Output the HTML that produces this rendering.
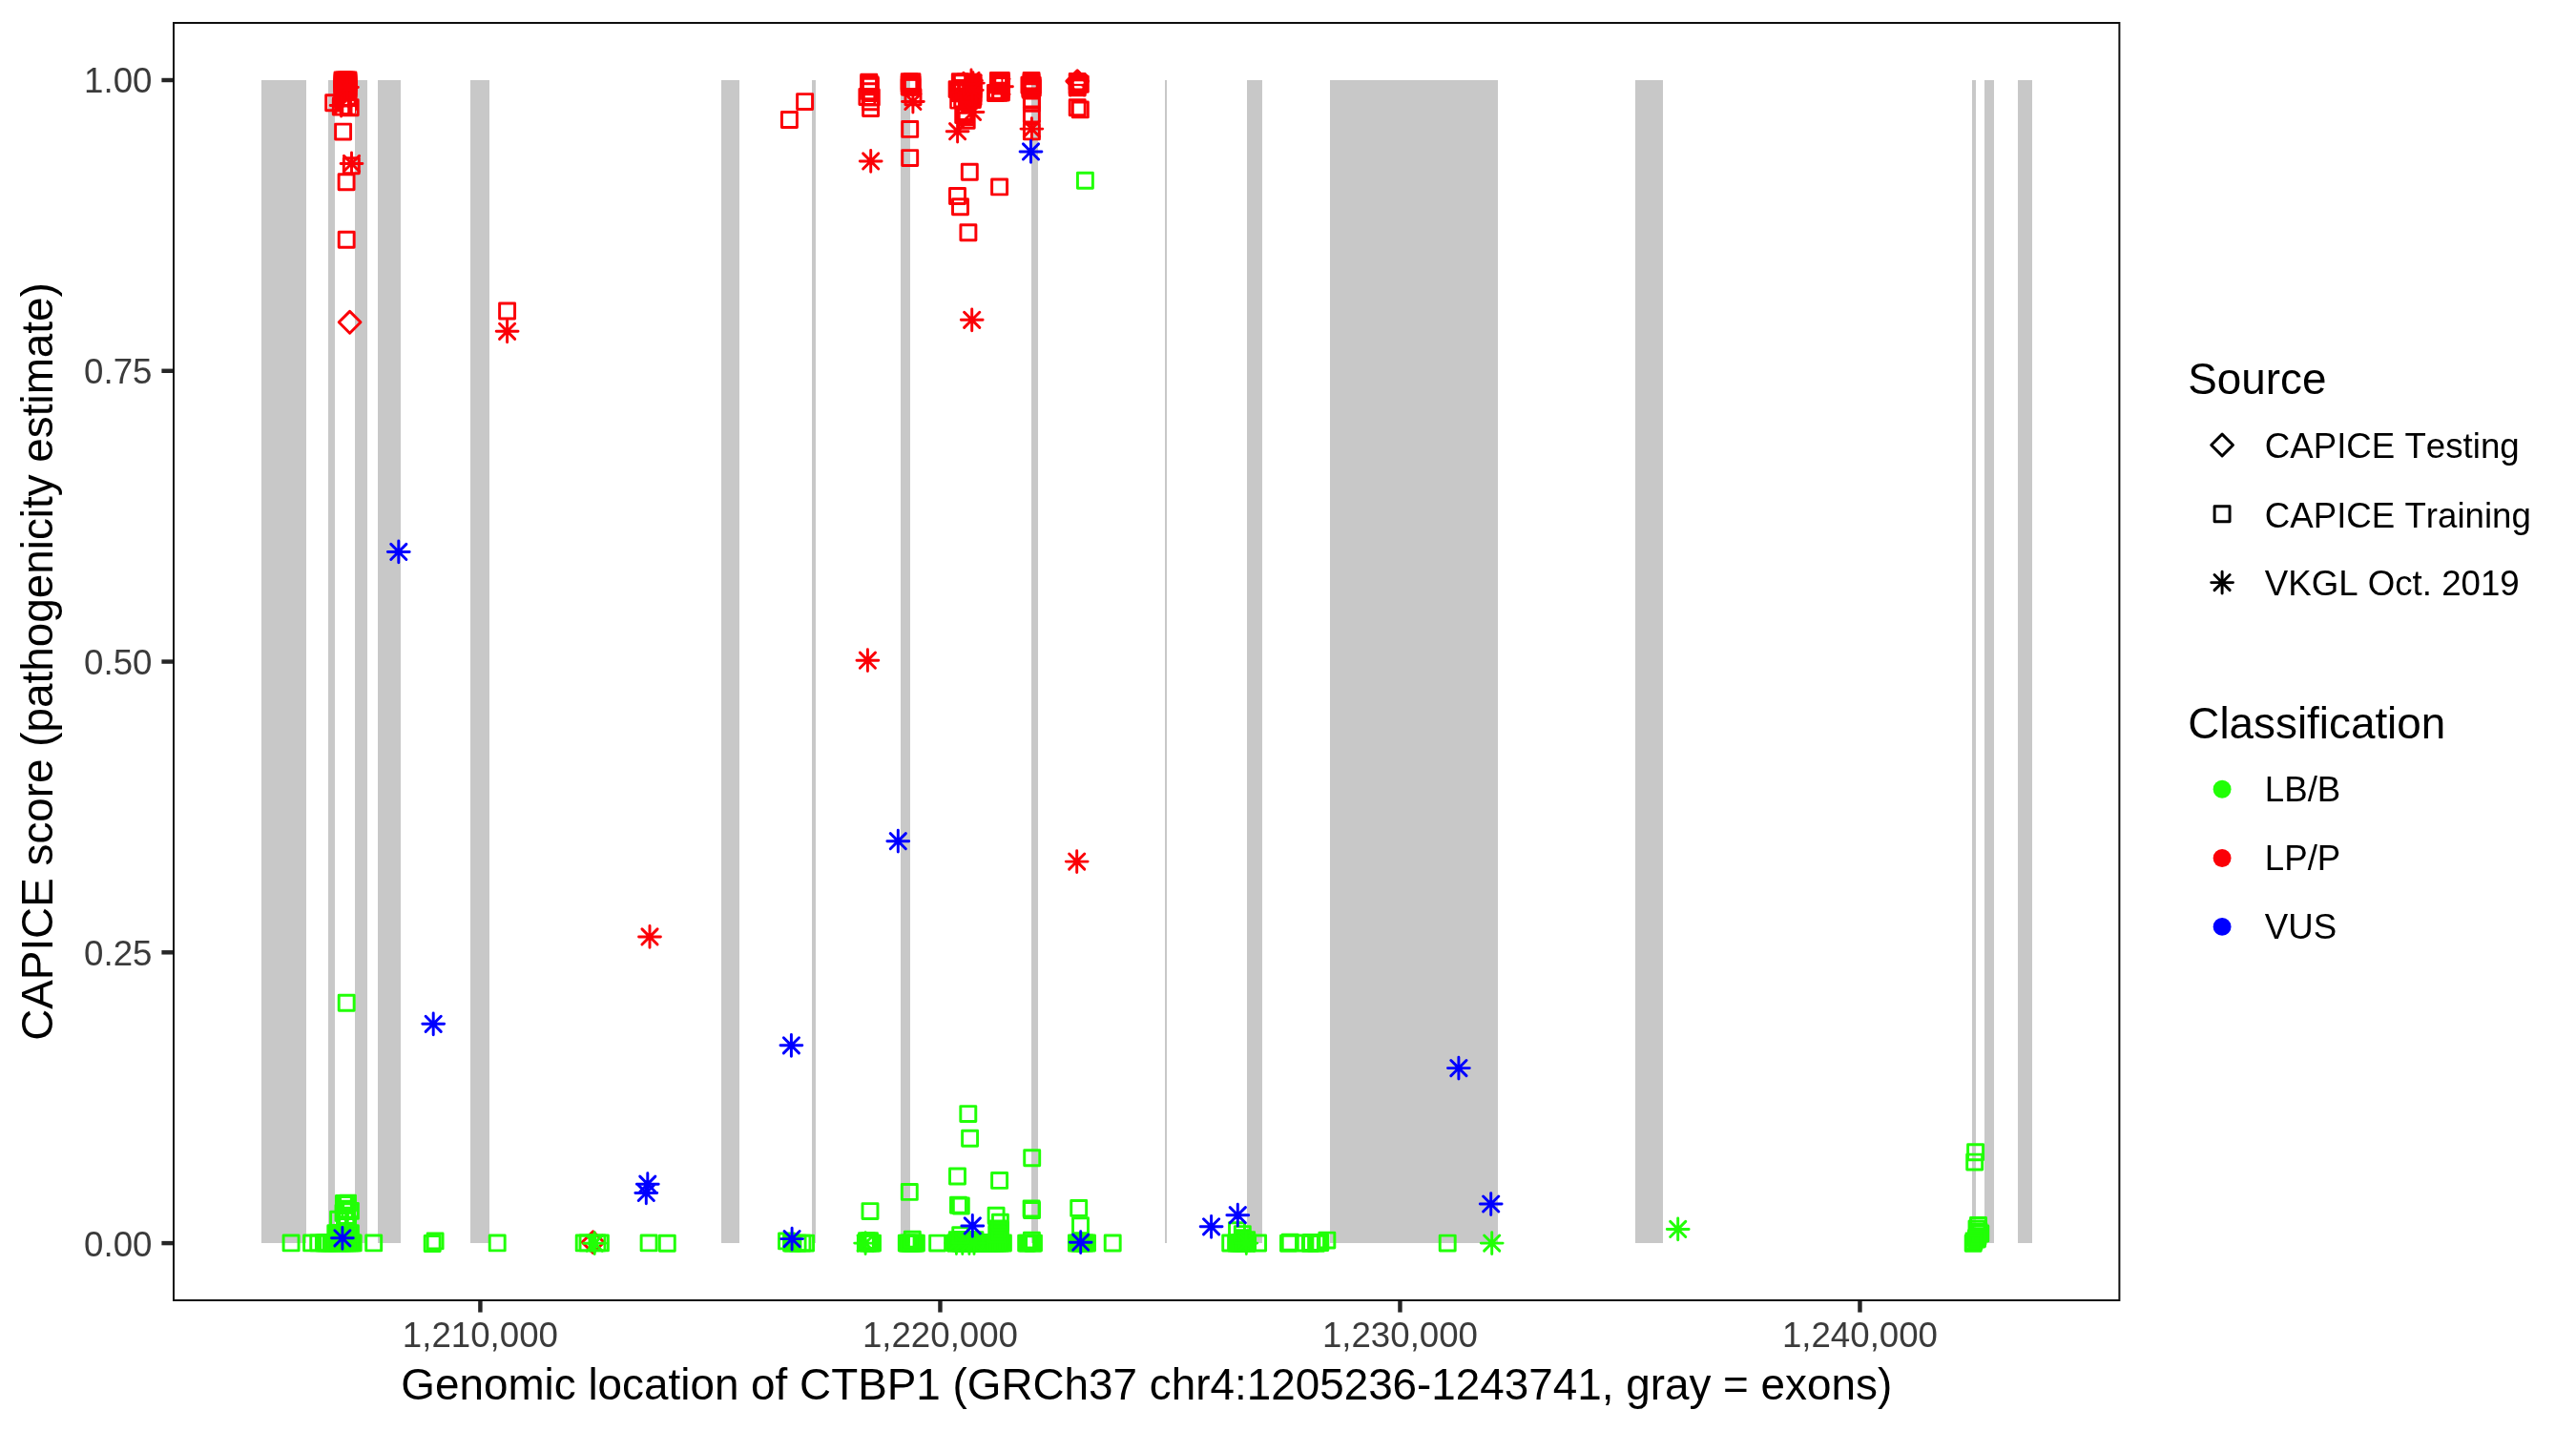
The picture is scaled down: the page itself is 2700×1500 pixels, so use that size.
<!DOCTYPE html>
<html><head><meta charset="utf-8"><title>CTBP1 CAPICE</title>
<style>html,body{margin:0;padding:0;background:#fff}svg{display:block;will-change:transform}text{font-family:"Liberation Sans",sans-serif;font-kerning:none;font-variant-ligatures:none}.tk{font-size:36.67px;fill:#3b3b3b}.ti{font-size:45.83px;fill:#000}.lg{font-size:36.67px;fill:#000}</style></head><body>
<svg width="2700" height="1500" viewBox="0 0 2700 1500">
<rect x="0" y="0" width="2700" height="1500" fill="#fff"/>
<g fill="#c8c8c8" shape-rendering="crispEdges">
<rect x="274" y="84" width="47" height="1218.9"/>
<rect x="344" y="84" width="7" height="1218.9"/>
<rect x="372" y="84" width="13" height="1218.9"/>
<rect x="396" y="84" width="24" height="1218.9"/>
<rect x="493.1" y="84" width="19.9" height="1218.9"/>
<rect x="756" y="84" width="18.9" height="1218.9"/>
<rect x="851.2" y="84" width="3.7" height="1218.9"/>
<rect x="944.2" y="84" width="9.6" height="1218.9"/>
<rect x="1081.2" y="84" width="6.6" height="1218.9"/>
<rect x="1221.3" y="84" width="1.7" height="1218.9"/>
<rect x="1307.2" y="84" width="15.7" height="1218.9"/>
<rect x="1394.1" y="84" width="175.7" height="1218.9"/>
<rect x="1714" y="84" width="29" height="1218.9"/>
<rect x="2067" y="84" width="4" height="1218.9"/>
<rect x="2080.1" y="84" width="9.9" height="1218.9"/>
<rect x="2115" y="84" width="15" height="1218.9"/>
</g>
<g fill="none" stroke-width="2.95" stroke-linejoin="round" stroke-linecap="round">
<rect x="351" y="76" width="22.5" height="25" fill="#fb0007" stroke="none" rx="2"/>
<rect x="351" y="100" width="21" height="6" fill="#fb0007" stroke="none" rx="2"/>
<rect x="994.5" y="85.5" width="34.7" height="16.5" fill="#fb0007" stroke="none" rx="2"/>
<rect x="998" y="77.5" width="31.2" height="8.5" fill="#fb0007" stroke="none" rx="2"/>
<rect x="996.5" y="101" width="32" height="12.5" fill="#fb0007" stroke="none" rx="2"/>
<rect x="1037" y="76.5" width="21" height="13.5" fill="#fb0007" stroke="none" rx="2"/>
<rect x="1035" y="89.5" width="23" height="16" fill="#fb0007" stroke="none" rx="2"/>
<rect x="1070.5" y="80" width="20.5" height="23.5" fill="#fb0007" stroke="none" rx="2"/>
<rect x="1072.5" y="76.2" width="17.5" height="4.8" fill="#fb0007" stroke="none" rx="2"/>
<rect x="1121" y="77.5" width="19.5" height="7.7" fill="#fb0007" stroke="none" rx="2"/>
<rect x="1121" y="87.8" width="19.5" height="2.4" fill="#fb0007" stroke="none" rx="2"/>
<rect x="1121" y="92.8" width="16" height="5.4" fill="#fb0007" stroke="none" rx="2"/>
<rect x="351.02" y="76.03" width="15.95" height="15.95" stroke="#fb0007"/>
<rect x="351.02" y="78.03" width="15.95" height="15.95" stroke="#fb0007"/>
<rect x="351.02" y="80.03" width="15.95" height="15.95" stroke="#fb0007"/>
<rect x="351.02" y="82.03" width="15.95" height="15.95" stroke="#fb0007"/>
<rect x="351.02" y="84.03" width="15.95" height="15.95" stroke="#fb0007"/>
<rect x="351.02" y="86.03" width="15.95" height="15.95" stroke="#fb0007"/>
<rect x="353.02" y="76.03" width="15.95" height="15.95" stroke="#fb0007"/>
<rect x="353.02" y="78.03" width="15.95" height="15.95" stroke="#fb0007"/>
<rect x="353.02" y="80.03" width="15.95" height="15.95" stroke="#fb0007"/>
<rect x="353.02" y="82.03" width="15.95" height="15.95" stroke="#fb0007"/>
<rect x="353.02" y="84.03" width="15.95" height="15.95" stroke="#fb0007"/>
<rect x="353.02" y="86.03" width="15.95" height="15.95" stroke="#fb0007"/>
<rect x="355.02" y="76.03" width="15.95" height="15.95" stroke="#fb0007"/>
<rect x="355.02" y="78.03" width="15.95" height="15.95" stroke="#fb0007"/>
<rect x="355.02" y="80.03" width="15.95" height="15.95" stroke="#fb0007"/>
<rect x="355.02" y="82.03" width="15.95" height="15.95" stroke="#fb0007"/>
<rect x="355.02" y="84.03" width="15.95" height="15.95" stroke="#fb0007"/>
<rect x="355.02" y="86.03" width="15.95" height="15.95" stroke="#fb0007"/>
<rect x="357.02" y="76.03" width="15.95" height="15.95" stroke="#fb0007"/>
<rect x="357.02" y="78.03" width="15.95" height="15.95" stroke="#fb0007"/>
<rect x="357.02" y="80.03" width="15.95" height="15.95" stroke="#fb0007"/>
<rect x="357.02" y="82.03" width="15.95" height="15.95" stroke="#fb0007"/>
<rect x="357.02" y="84.03" width="15.95" height="15.95" stroke="#fb0007"/>
<rect x="357.02" y="86.03" width="15.95" height="15.95" stroke="#fb0007"/>
<rect x="341.72" y="99.83" width="15.95" height="15.95" stroke="#fb0007"/>
<rect x="349.32" y="104.03" width="15.95" height="15.95" stroke="#fb0007"/>
<rect x="359.22" y="104.73" width="15.95" height="15.95" stroke="#fb0007"/>
<rect x="354.02" y="98.03" width="15.95" height="15.95" stroke="#fb0007"/>
<rect x="351.52" y="96.03" width="15.95" height="15.95" stroke="#fb0007"/>
<rect x="353.02" y="100.53" width="15.95" height="15.95" stroke="#fb0007"/>
<rect x="355.52" y="102.53" width="15.95" height="15.95" stroke="#fb0007"/>
<rect x="357.02" y="98.53" width="15.95" height="15.95" stroke="#fb0007"/>
<rect x="352.02" y="103.53" width="15.95" height="15.95" stroke="#fb0007"/>
<rect x="356.52" y="95.03" width="15.95" height="15.95" stroke="#fb0007"/>
<path d="M349.54 102.44L365.66 118.56M349.54 118.56L365.66 102.44M346.2 110.5L369 110.5M357.6 99.1L357.6 121.9" stroke="#fb0007"/>
<path d="M355.84 83.34L371.96 99.46M355.84 99.46L371.96 83.34M352.5 91.4L375.3 91.4M363.9 80L363.9 102.8" stroke="#fb0007"/>
<rect x="351.62" y="130.12" width="15.95" height="15.95" stroke="#fb0007"/>
<path d="M360.44 163.34L376.56 179.46M360.44 179.46L376.56 163.34M357.1 171.4L379.9 171.4M368.5 160L368.5 182.8" stroke="#fb0007"/>
<rect x="360.32" y="165.83" width="15.95" height="15.95" stroke="#fb0007"/>
<rect x="355.12" y="182.72" width="15.95" height="15.95" stroke="#fb0007"/>
<rect x="355.22" y="243.22" width="15.95" height="15.95" stroke="#fb0007"/>
<path d="M355.2 337.8L366.6 326.4L378 337.8L366.6 349.2Z" stroke="#fb0007"/>
<rect x="523.62" y="318.02" width="15.95" height="15.95" stroke="#fb0007"/>
<path d="M523.54 339.24L539.66 355.36M523.54 355.36L539.66 339.24M520.2 347.3L543 347.3M531.6 335.9L531.6 358.7" stroke="#fb0007"/>
<rect x="835.62" y="98.62" width="15.95" height="15.95" stroke="#fb0007"/>
<rect x="819.42" y="117.53" width="15.95" height="15.95" stroke="#fb0007"/>
<rect x="902.82" y="78.12" width="15.95" height="15.95" stroke="#fb0007"/>
<rect x="902.82" y="79.53" width="15.95" height="15.95" stroke="#fb0007"/>
<rect x="904.23" y="81.03" width="15.95" height="15.95" stroke="#fb0007"/>
<rect x="904.23" y="82.23" width="15.95" height="15.95" stroke="#fb0007"/>
<rect x="903.52" y="87.83" width="15.95" height="15.95" stroke="#fb0007"/>
<rect x="900.92" y="93.53" width="15.95" height="15.95" stroke="#fb0007"/>
<rect x="905.32" y="94.03" width="15.95" height="15.95" stroke="#fb0007"/>
<rect x="904.52" y="98.83" width="15.95" height="15.95" stroke="#fb0007"/>
<rect x="904.62" y="105.53" width="15.95" height="15.95" stroke="#fb0007"/>
<path d="M904.64 160.84L920.76 176.96M904.64 176.96L920.76 160.84M901.3 168.9L924.1 168.9M912.7 157.5L912.7 180.3" stroke="#fb0007"/>
<rect x="945.23" y="77.83" width="15.95" height="15.95" stroke="#fb0007"/>
<rect x="948.02" y="77.83" width="15.95" height="15.95" stroke="#fb0007"/>
<rect x="945.23" y="80.03" width="15.95" height="15.95" stroke="#fb0007"/>
<rect x="948.02" y="80.53" width="15.95" height="15.95" stroke="#fb0007"/>
<rect x="946.52" y="83.03" width="15.95" height="15.95" stroke="#fb0007"/>
<rect x="945.23" y="83.03" width="15.95" height="15.95" stroke="#fb0007"/>
<rect x="948.02" y="83.03" width="15.95" height="15.95" stroke="#fb0007"/>
<rect x="949.02" y="93.73" width="15.95" height="15.95" stroke="#fb0007"/>
<path d="M948.84 98.44L964.96 114.56M948.84 114.56L964.96 98.44M945.5 106.5L968.3 106.5M956.9 95.1L956.9 117.9" stroke="#fb0007"/>
<rect x="945.73" y="127.43" width="15.95" height="15.95" stroke="#fb0007"/>
<rect x="945.73" y="157.62" width="15.95" height="15.95" stroke="#fb0007"/>
<rect x="998.32" y="77.83" width="15.95" height="15.95" stroke="#fb0007"/>
<rect x="995.12" y="85.62" width="15.95" height="15.95" stroke="#fb0007"/>
<rect x="996.73" y="97.12" width="15.95" height="15.95" stroke="#fb0007"/>
<rect x="1012.02" y="78.62" width="15.95" height="15.95" stroke="#fb0007"/>
<rect x="1012.02" y="82.03" width="15.95" height="15.95" stroke="#fb0007"/>
<rect x="1012.02" y="86.03" width="15.95" height="15.95" stroke="#fb0007"/>
<rect x="1012.02" y="90.03" width="15.95" height="15.95" stroke="#fb0007"/>
<rect x="1012.02" y="93.73" width="15.95" height="15.95" stroke="#fb0007"/>
<rect x="1011.32" y="96.53" width="15.95" height="15.95" stroke="#fb0007"/>
<rect x="1004.02" y="78.03" width="15.95" height="15.95" stroke="#fb0007"/>
<rect x="1008.02" y="78.33" width="15.95" height="15.95" stroke="#fb0007"/>
<rect x="1002.02" y="87.03" width="15.95" height="15.95" stroke="#fb0007"/>
<rect x="1007.02" y="91.03" width="15.95" height="15.95" stroke="#fb0007"/>
<path d="M1009.94 76.34L1026.06 92.46M1009.94 92.46L1026.06 76.34M1006.6 84.4L1029.4 84.4M1018 73L1018 95.8" stroke="#fb0007"/>
<path d="M1011.84 79.04L1027.96 95.16M1011.84 95.16L1027.96 79.04M1008.5 87.1L1031.3 87.1M1019.9 75.7L1019.9 98.5" stroke="#fb0007"/>
<path d="M1010.74 86.34L1026.86 102.46M1010.74 102.46L1026.86 86.34M1007.4 94.4L1030.2 94.4M1018.8 83L1018.8 105.8" stroke="#fb0007"/>
<path d="M1001.84 80.04L1017.96 96.16M1001.84 96.16L1017.96 80.04M998.5 88.1L1021.3 88.1M1009.9 76.7L1009.9 99.5" stroke="#fb0007"/>
<rect x="1001.73" y="112.53" width="15.95" height="15.95" stroke="#fb0007"/>
<rect x="1005.23" y="118.33" width="15.95" height="15.95" stroke="#fb0007"/>
<rect x="1003.52" y="109.53" width="15.95" height="15.95" stroke="#fb0007"/>
<rect x="1004.52" y="114.83" width="15.95" height="15.95" stroke="#fb0007"/>
<path d="M1011.44 109.34L1027.56 125.46M1011.44 125.46L1027.56 109.34M1008.1 117.4L1030.9 117.4M1019.5 106L1019.5 128.8" stroke="#fb0007"/>
<path d="M995.54 129.64L1011.66 145.76M995.54 145.76L1011.66 129.64M992.2 137.7L1015 137.7M1003.6 126.3L1003.6 149.1" stroke="#fb0007"/>
<rect x="1008.32" y="172.33" width="15.95" height="15.95" stroke="#fb0007"/>
<rect x="995.52" y="197.53" width="15.95" height="15.95" stroke="#fb0007"/>
<rect x="998.52" y="208.72" width="15.95" height="15.95" stroke="#fb0007"/>
<rect x="1006.92" y="235.72" width="15.95" height="15.95" stroke="#fb0007"/>
<path d="M1010.64 327.24L1026.76 343.36M1010.64 343.36L1026.76 327.24M1007.3 335.3L1030.1 335.3M1018.7 323.9L1018.7 346.7" stroke="#fb0007"/>
<rect x="1039.62" y="187.93" width="15.95" height="15.95" stroke="#fb0007"/>
<rect x="1038.43" y="76.53" width="15.95" height="15.95" stroke="#fb0007"/>
<rect x="1038.43" y="79.53" width="15.95" height="15.95" stroke="#fb0007"/>
<rect x="1038.43" y="82.53" width="15.95" height="15.95" stroke="#fb0007"/>
<rect x="1038.43" y="86.03" width="15.95" height="15.95" stroke="#fb0007"/>
<rect x="1041.43" y="76.53" width="15.95" height="15.95" stroke="#fb0007"/>
<rect x="1041.43" y="79.53" width="15.95" height="15.95" stroke="#fb0007"/>
<rect x="1041.43" y="82.53" width="15.95" height="15.95" stroke="#fb0007"/>
<rect x="1041.43" y="86.03" width="15.95" height="15.95" stroke="#fb0007"/>
<rect x="1035.53" y="89.53" width="15.95" height="15.95" stroke="#fb0007"/>
<rect x="1039.03" y="89.33" width="15.95" height="15.95" stroke="#fb0007"/>
<rect x="1041.43" y="89.03" width="15.95" height="15.95" stroke="#fb0007"/>
<path d="M1041.94 82.74L1058.06 98.86M1041.94 98.86L1058.06 82.74M1038.6 90.8L1061.4 90.8M1050 79.4L1050 102.2" stroke="#fb0007"/>
<rect x="1073.08" y="76.53" width="15.95" height="15.95" stroke="#fb0007"/>
<rect x="1073.08" y="78.53" width="15.95" height="15.95" stroke="#fb0007"/>
<rect x="1070.93" y="81.23" width="15.95" height="15.95" stroke="#fb0007"/>
<rect x="1074.33" y="81.53" width="15.95" height="15.95" stroke="#fb0007"/>
<rect x="1072.03" y="84.23" width="15.95" height="15.95" stroke="#fb0007"/>
<rect x="1074.33" y="84.23" width="15.95" height="15.95" stroke="#fb0007"/>
<rect x="1073.03" y="87.03" width="15.95" height="15.95" stroke="#fb0007"/>
<rect x="1073.43" y="97.23" width="15.95" height="15.95" stroke="#fb0007"/>
<rect x="1073.43" y="100.23" width="15.95" height="15.95" stroke="#fb0007"/>
<rect x="1073.43" y="111.93" width="15.95" height="15.95" stroke="#fb0007"/>
<rect x="1073.43" y="129.93" width="15.95" height="15.95" stroke="#fb0007"/>
<path d="M1073.34 127.04L1089.46 143.16M1073.34 143.16L1089.46 127.04M1070 135.1L1092.8 135.1M1081.4 123.7L1081.4 146.5" stroke="#fb0007"/>
<path d="M1117.8 85.1L1129.2 73.7L1140.6 85.1L1129.2 96.5Z" stroke="#fb0007"/>
<rect x="1121.23" y="77.43" width="15.95" height="15.95" stroke="#fb0007"/>
<rect x="1121.53" y="78.53" width="15.95" height="15.95" stroke="#fb0007"/>
<rect x="1124.33" y="80.23" width="15.95" height="15.95" stroke="#fb0007"/>
<rect x="1121.23" y="84.03" width="15.95" height="15.95" stroke="#fb0007"/>
<rect x="1121.23" y="82.03" width="15.95" height="15.95" stroke="#fb0007"/>
<rect x="1121.23" y="104.73" width="15.95" height="15.95" stroke="#fb0007"/>
<rect x="1124.33" y="106.93" width="15.95" height="15.95" stroke="#fb0007"/>
<path d="M901.34 684.14L917.46 700.26M901.34 700.26L917.46 684.14M898 692.2L920.8 692.2M909.4 680.8L909.4 703.6" stroke="#fb0007"/>
<path d="M1120.64 895.04L1136.76 911.16M1120.64 911.16L1136.76 895.04M1117.3 903.1L1140.1 903.1M1128.7 891.7L1128.7 914.5" stroke="#fb0007"/>
<path d="M672.94 973.84L689.06 989.96M672.94 989.96L689.06 973.84M669.6 981.9L692.4 981.9M681 970.5L681 993.3" stroke="#fb0007"/>
<path d="M610.2 1302.1L621.6 1290.7L633 1302.1L621.6 1313.5Z" stroke="#fb0007"/>
<rect x="1001.8" y="80.2" width="8.4" height="2.7" fill="#fff" stroke="none" rx="0.6"/>
<rect x="997.8" y="107" width="1.4" height="5" fill="#fff" stroke="none" rx="0.6"/>
<rect x="1002.3" y="107.2" width="1.6" height="3.4" fill="#fff" stroke="none" rx="0.6"/>
<rect x="1002" y="90.3" width="1.2" height="1.2" fill="#fff" stroke="none" rx="0.6"/>
<rect x="1007" y="90.5" width="1.3" height="1.1" fill="#fff" stroke="none" rx="0.6"/>
<rect x="1044.2" y="83.1" width="5.3" height="2.7" fill="#fff" stroke="none" rx="0.6"/>
<rect x="1051.3" y="83.1" width="1.8" height="2.7" fill="#fff" stroke="none" rx="0.6"/>
<rect x="1037.9" y="98.1" width="1.1" height="3.6" fill="#fff" stroke="none" rx="0.6"/>
<rect x="1042.1" y="99.6" width="6.6" height="2.1" fill="#fff" stroke="none" rx="0.6"/>
<rect x="1075.7" y="89.2" width="5.7" height="2.2" fill="#fff" stroke="none" rx="0.6"/>
<rect x="1081.2" y="89.2" width="4.6" height="2.2" fill="#c8c8c8" stroke="none" rx="0.6"/>
<rect x="1125.9" y="85.5" width="9.7" height="2" fill="#fff" stroke="none" rx="0.6"/>
<rect x="1126.3" y="90.5" width="8.2" height="1.9" fill="#fff" stroke="none" rx="0.6"/>
<rect x="1122.6" y="101.5" width="13" height="1.4" fill="#fff" stroke="none" rx="0.6"/>
<rect x="360.3" y="112.4" width="3.9" height="5.7" fill="#fff" stroke="none" rx="0.6"/>
<rect x="369.5" y="112.1" width="2.5" height="6.6" fill="#fff" stroke="none" rx="0.6"/>
<rect x="353.3" y="117.4" width="2.6" height="1.3" fill="#fff" stroke="none" rx="0.6"/>
<rect x="369" y="106.1" width="1.8" height="1.6" fill="#fff" stroke="none" rx="0.6"/>
<rect x="339.5" y="1294.5" width="39.5" height="17" fill="#21ff06" stroke="none" rx="2"/>
<rect x="821.5" y="1295" width="18" height="16.5" fill="#21ff06" stroke="none" rx="2"/>
<path fill-rule="evenodd" fill="#21ff06" stroke="none" d="M942.3 1295H968.4V1311.3H942.3ZM953.2 1297.1H956.8V1305.9H953.2Z"/>
<rect x="994" y="1295" width="66" height="16" fill="#21ff06" stroke="none" rx="2"/>
<rect x="1035.5" y="1279.2" width="22.3" height="16.8" fill="#21ff06" stroke="none" rx="2"/>
<rect x="994.5" y="1291.5" width="36.5" height="4.5" fill="#21ff06" stroke="none" rx="2"/>
<path fill-rule="evenodd" fill="#21ff06" stroke="none" d="M1067.5 1295H1092V1311.3H1067.5ZM1077 1297.2H1082.85V1306.8H1077Z"/>
<rect x="1121" y="1295" width="26" height="16" fill="#21ff06" stroke="none" rx="2"/>
<rect x="1286.5" y="1294.5" width="30.3" height="17.3" fill="#21ff06" stroke="none" rx="2"/>
<rect x="1293.5" y="1288.3" width="17.8" height="6.7" fill="#21ff06" stroke="none" rx="2"/>
<rect x="2062" y="1288" width="20" height="20" fill="#21ff06" stroke="none" rx="2"/>
<rect x="343.5" y="1284.5" width="32.5" height="10" fill="#21ff06" stroke="none" rx="2"/>
<rect x="353.5" y="1254" width="18.5" height="29" fill="#21ff06" stroke="none" rx="2"/>
<rect x="1129.43" y="181.33" width="15.95" height="15.95" stroke="#21ff06"/>
<rect x="355.22" y="1043.33" width="15.95" height="15.95" stroke="#21ff06"/>
<rect x="297.12" y="1294.93" width="15.95" height="15.95" stroke="#21ff06"/>
<rect x="318.62" y="1294.93" width="15.95" height="15.95" stroke="#21ff06"/>
<rect x="325.77" y="1294.93" width="15.95" height="15.95" stroke="#21ff06"/>
<rect x="331.42" y="1294.93" width="15.95" height="15.95" stroke="#21ff06"/>
<rect x="333.02" y="1294.93" width="15.95" height="15.95" stroke="#21ff06"/>
<rect x="334.52" y="1294.93" width="15.95" height="15.95" stroke="#21ff06"/>
<rect x="336.02" y="1294.93" width="15.95" height="15.95" stroke="#21ff06"/>
<rect x="337.52" y="1294.93" width="15.95" height="15.95" stroke="#21ff06"/>
<rect x="339.52" y="1294.93" width="15.95" height="15.95" stroke="#21ff06"/>
<rect x="341.52" y="1294.93" width="15.95" height="15.95" stroke="#21ff06"/>
<rect x="344.02" y="1294.93" width="15.95" height="15.95" stroke="#21ff06"/>
<rect x="346.52" y="1294.93" width="15.95" height="15.95" stroke="#21ff06"/>
<rect x="349.02" y="1294.93" width="15.95" height="15.95" stroke="#21ff06"/>
<rect x="351.52" y="1294.93" width="15.95" height="15.95" stroke="#21ff06"/>
<rect x="354.02" y="1294.93" width="15.95" height="15.95" stroke="#21ff06"/>
<rect x="356.52" y="1294.93" width="15.95" height="15.95" stroke="#21ff06"/>
<rect x="359.02" y="1294.93" width="15.95" height="15.95" stroke="#21ff06"/>
<rect x="361.02" y="1294.93" width="15.95" height="15.95" stroke="#21ff06"/>
<rect x="362.22" y="1294.93" width="15.95" height="15.95" stroke="#21ff06"/>
<rect x="383.72" y="1294.93" width="15.95" height="15.95" stroke="#21ff06"/>
<rect x="445.22" y="1295.53" width="15.95" height="15.95" stroke="#21ff06"/>
<rect x="448.12" y="1292.93" width="15.95" height="15.95" stroke="#21ff06"/>
<rect x="513.23" y="1294.93" width="15.95" height="15.95" stroke="#21ff06"/>
<rect x="604.23" y="1294.93" width="15.95" height="15.95" stroke="#21ff06"/>
<rect x="608.02" y="1294.93" width="15.95" height="15.95" stroke="#21ff06"/>
<rect x="618.02" y="1294.93" width="15.95" height="15.95" stroke="#21ff06"/>
<rect x="621.42" y="1294.93" width="15.95" height="15.95" stroke="#21ff06"/>
<path d="M615.14 1295.14L631.26 1311.26M615.14 1311.26L631.26 1295.14M611.8 1303.2L634.6 1303.2M623.2 1291.8L623.2 1314.6" stroke="#21ff06"/>
<rect x="672.12" y="1294.93" width="15.95" height="15.95" stroke="#21ff06"/>
<rect x="691.32" y="1295.33" width="15.95" height="15.95" stroke="#21ff06"/>
<rect x="816.52" y="1292.93" width="15.95" height="15.95" stroke="#21ff06"/>
<rect x="821.57" y="1295.12" width="15.95" height="15.95" stroke="#21ff06"/>
<rect x="823.02" y="1295.12" width="15.95" height="15.95" stroke="#21ff06"/>
<rect x="828.12" y="1295.12" width="15.95" height="15.95" stroke="#21ff06"/>
<rect x="833.02" y="1295.12" width="15.95" height="15.95" stroke="#21ff06"/>
<rect x="836.62" y="1295.12" width="15.95" height="15.95" stroke="#21ff06"/>
<rect x="899.38" y="1295.12" width="15.95" height="15.95" stroke="#21ff06"/>
<rect x="900.52" y="1292.83" width="15.95" height="15.95" stroke="#21ff06"/>
<rect x="902.02" y="1295.12" width="15.95" height="15.95" stroke="#21ff06"/>
<rect x="903.52" y="1292.83" width="15.95" height="15.95" stroke="#21ff06"/>
<rect x="905.02" y="1295.12" width="15.95" height="15.95" stroke="#21ff06"/>
<rect x="906.52" y="1295.12" width="15.95" height="15.95" stroke="#21ff06"/>
<path d="M899.04 1295.04L915.16 1311.16M899.04 1311.16L915.16 1295.04M895.7 1303.1L918.5 1303.1M907.1 1291.7L907.1 1314.5" stroke="#21ff06"/>
<rect x="942.32" y="1295.12" width="15.95" height="15.95" stroke="#21ff06"/>
<rect x="943.52" y="1295.12" width="15.95" height="15.95" stroke="#21ff06"/>
<rect x="945.02" y="1295.12" width="15.95" height="15.95" stroke="#21ff06"/>
<rect x="946.52" y="1295.12" width="15.95" height="15.95" stroke="#21ff06"/>
<rect x="948.02" y="1295.12" width="15.95" height="15.95" stroke="#21ff06"/>
<rect x="949.52" y="1295.12" width="15.95" height="15.95" stroke="#21ff06"/>
<rect x="951.02" y="1295.12" width="15.95" height="15.95" stroke="#21ff06"/>
<rect x="952.42" y="1295.12" width="15.95" height="15.95" stroke="#21ff06"/>
<rect x="974.67" y="1295.12" width="15.95" height="15.95" stroke="#21ff06"/>
<rect x="948.32" y="1291.33" width="15.95" height="15.95" stroke="#21ff06"/>
<rect x="993.23" y="1295.03" width="15.95" height="15.95" stroke="#21ff06"/>
<rect x="996.02" y="1295.03" width="15.95" height="15.95" stroke="#21ff06"/>
<rect x="998.82" y="1295.03" width="15.95" height="15.95" stroke="#21ff06"/>
<rect x="1001.62" y="1295.03" width="15.95" height="15.95" stroke="#21ff06"/>
<rect x="1004.42" y="1295.03" width="15.95" height="15.95" stroke="#21ff06"/>
<rect x="1007.22" y="1295.03" width="15.95" height="15.95" stroke="#21ff06"/>
<rect x="1010.02" y="1295.03" width="15.95" height="15.95" stroke="#21ff06"/>
<rect x="1012.82" y="1295.03" width="15.95" height="15.95" stroke="#21ff06"/>
<rect x="1015.62" y="1295.03" width="15.95" height="15.95" stroke="#21ff06"/>
<rect x="1018.42" y="1295.03" width="15.95" height="15.95" stroke="#21ff06"/>
<rect x="1021.22" y="1295.03" width="15.95" height="15.95" stroke="#21ff06"/>
<rect x="1024.02" y="1295.03" width="15.95" height="15.95" stroke="#21ff06"/>
<rect x="1026.82" y="1295.03" width="15.95" height="15.95" stroke="#21ff06"/>
<rect x="1029.62" y="1295.03" width="15.95" height="15.95" stroke="#21ff06"/>
<rect x="1032.42" y="1295.03" width="15.95" height="15.95" stroke="#21ff06"/>
<rect x="1035.22" y="1295.03" width="15.95" height="15.95" stroke="#21ff06"/>
<rect x="1038.02" y="1295.03" width="15.95" height="15.95" stroke="#21ff06"/>
<rect x="1040.82" y="1295.03" width="15.95" height="15.95" stroke="#21ff06"/>
<rect x="1043.43" y="1295.03" width="15.95" height="15.95" stroke="#21ff06"/>
<rect x="1038.03" y="1280.03" width="15.95" height="15.95" stroke="#21ff06"/>
<rect x="1040.03" y="1283.03" width="15.95" height="15.95" stroke="#21ff06"/>
<rect x="1037.03" y="1286.03" width="15.95" height="15.95" stroke="#21ff06"/>
<rect x="995.32" y="1291.83" width="15.95" height="15.95" stroke="#21ff06"/>
<rect x="1000.02" y="1291.83" width="15.95" height="15.95" stroke="#21ff06"/>
<rect x="1005.02" y="1291.83" width="15.95" height="15.95" stroke="#21ff06"/>
<rect x="1010.02" y="1291.83" width="15.95" height="15.95" stroke="#21ff06"/>
<rect x="1014.02" y="1291.83" width="15.95" height="15.95" stroke="#21ff06"/>
<path d="M994.34 1294.94L1010.46 1311.06M994.34 1311.06L1010.46 1294.94M991 1303L1013.8 1303M1002.4 1291.6L1002.4 1314.4" stroke="#21ff06"/>
<path d="M1000.74 1294.94L1016.86 1311.06M1000.74 1311.06L1016.86 1294.94M997.4 1303L1020.2 1303M1008.8 1291.6L1008.8 1314.4" stroke="#21ff06"/>
<path d="M1007.84 1294.94L1023.96 1311.06M1007.84 1311.06L1023.96 1294.94M1004.5 1303L1027.3 1303M1015.9 1291.6L1015.9 1314.4" stroke="#21ff06"/>
<path d="M1012.94 1294.94L1029.06 1311.06M1012.94 1311.06L1029.06 1294.94M1009.6 1303L1032.4 1303M1021 1291.6L1021 1314.4" stroke="#21ff06"/>
<rect x="1067.68" y="1295.12" width="15.95" height="15.95" stroke="#21ff06"/>
<rect x="1069.03" y="1295.12" width="15.95" height="15.95" stroke="#21ff06"/>
<rect x="1074.53" y="1295.12" width="15.95" height="15.95" stroke="#21ff06"/>
<rect x="1075.48" y="1295.12" width="15.95" height="15.95" stroke="#21ff06"/>
<rect x="1073.43" y="1292.23" width="15.95" height="15.95" stroke="#21ff06"/>
<rect x="1120.43" y="1295.03" width="15.95" height="15.95" stroke="#21ff06"/>
<rect x="1123.03" y="1295.03" width="15.95" height="15.95" stroke="#21ff06"/>
<rect x="1126.03" y="1295.03" width="15.95" height="15.95" stroke="#21ff06"/>
<rect x="1129.03" y="1295.03" width="15.95" height="15.95" stroke="#21ff06"/>
<rect x="1131.53" y="1295.03" width="15.95" height="15.95" stroke="#21ff06"/>
<rect x="1158.23" y="1295.03" width="15.95" height="15.95" stroke="#21ff06"/>
<rect x="1281.73" y="1295.08" width="15.95" height="15.95" stroke="#21ff06"/>
<rect x="1287.73" y="1295.08" width="15.95" height="15.95" stroke="#21ff06"/>
<rect x="1290.03" y="1295.08" width="15.95" height="15.95" stroke="#21ff06"/>
<rect x="1292.33" y="1295.08" width="15.95" height="15.95" stroke="#21ff06"/>
<rect x="1294.62" y="1295.08" width="15.95" height="15.95" stroke="#21ff06"/>
<rect x="1297.03" y="1295.08" width="15.95" height="15.95" stroke="#21ff06"/>
<rect x="1299.62" y="1295.08" width="15.95" height="15.95" stroke="#21ff06"/>
<rect x="1310.62" y="1295.08" width="15.95" height="15.95" stroke="#21ff06"/>
<rect x="1288.53" y="1281.73" width="15.95" height="15.95" stroke="#21ff06"/>
<rect x="1294.33" y="1285.62" width="15.95" height="15.95" stroke="#21ff06"/>
<rect x="1298.73" y="1291.73" width="15.95" height="15.95" stroke="#21ff06"/>
<path d="M1298.24 1295.04L1314.36 1311.16M1298.24 1311.16L1314.36 1295.04M1294.9 1303.1L1317.7 1303.1M1306.3 1291.7L1306.3 1314.5" stroke="#21ff06"/>
<rect x="1342.53" y="1295.33" width="15.95" height="15.95" stroke="#21ff06"/>
<rect x="1344.23" y="1294.23" width="15.95" height="15.95" stroke="#21ff06"/>
<rect x="1359.62" y="1295.03" width="15.95" height="15.95" stroke="#21ff06"/>
<rect x="1365.43" y="1295.33" width="15.95" height="15.95" stroke="#21ff06"/>
<rect x="1366.53" y="1294.53" width="15.95" height="15.95" stroke="#21ff06"/>
<rect x="1371.62" y="1295.23" width="15.95" height="15.95" stroke="#21ff06"/>
<rect x="1374.43" y="1294.62" width="15.95" height="15.95" stroke="#21ff06"/>
<rect x="1375.83" y="1294.53" width="15.95" height="15.95" stroke="#21ff06"/>
<rect x="1382.88" y="1292.12" width="15.95" height="15.95" stroke="#21ff06"/>
<rect x="1509.23" y="1295.12" width="15.95" height="15.95" stroke="#21ff06"/>
<path d="M1555.64 1295.04L1571.76 1311.16M1555.64 1311.16L1571.76 1295.04M1552.3 1303.1L1575.1 1303.1M1563.7 1291.7L1563.7 1314.5" stroke="#21ff06"/>
<path d="M1750.64 1280.34L1766.76 1296.46M1750.64 1296.46L1766.76 1280.34M1747.3 1288.4L1770.1 1288.4M1758.7 1277L1758.7 1299.8" stroke="#21ff06"/>
<rect x="2062.62" y="1199.73" width="15.95" height="15.95" stroke="#21ff06"/>
<rect x="2061.72" y="1210.12" width="15.95" height="15.95" stroke="#21ff06"/>
<rect x="2065.53" y="1276.43" width="15.95" height="15.95" stroke="#21ff06"/>
<rect x="2064.03" y="1280.03" width="15.95" height="15.95" stroke="#21ff06"/>
<rect x="2066.03" y="1283.03" width="15.95" height="15.95" stroke="#21ff06"/>
<rect x="2067.83" y="1285.03" width="15.95" height="15.95" stroke="#21ff06"/>
<rect x="2065.03" y="1288.03" width="15.95" height="15.95" stroke="#21ff06"/>
<rect x="2064.03" y="1291.03" width="15.95" height="15.95" stroke="#21ff06"/>
<rect x="2061.03" y="1293.03" width="15.95" height="15.95" stroke="#21ff06"/>
<rect x="2060.22" y="1295.33" width="15.95" height="15.95" stroke="#21ff06"/>
<rect x="352.42" y="1253.53" width="15.95" height="15.95" stroke="#21ff06"/>
<rect x="356.52" y="1253.23" width="15.95" height="15.95" stroke="#21ff06"/>
<rect x="353.52" y="1256.03" width="15.95" height="15.95" stroke="#21ff06"/>
<rect x="355.52" y="1258.83" width="15.95" height="15.95" stroke="#21ff06"/>
<rect x="354.02" y="1261.03" width="15.95" height="15.95" stroke="#21ff06"/>
<rect x="359.42" y="1261.43" width="15.95" height="15.95" stroke="#21ff06"/>
<rect x="352.02" y="1263.53" width="15.95" height="15.95" stroke="#21ff06"/>
<rect x="355.52" y="1265.03" width="15.95" height="15.95" stroke="#21ff06"/>
<rect x="346.62" y="1270.33" width="15.95" height="15.95" stroke="#21ff06"/>
<rect x="353.52" y="1272.53" width="15.95" height="15.95" stroke="#21ff06"/>
<rect x="356.52" y="1275.03" width="15.95" height="15.95" stroke="#21ff06"/>
<rect x="354.52" y="1277.03" width="15.95" height="15.95" stroke="#21ff06"/>
<rect x="343.82" y="1284.73" width="15.95" height="15.95" stroke="#21ff06"/>
<rect x="347.02" y="1284.73" width="15.95" height="15.95" stroke="#21ff06"/>
<rect x="350.02" y="1284.53" width="15.95" height="15.95" stroke="#21ff06"/>
<rect x="353.02" y="1284.73" width="15.95" height="15.95" stroke="#21ff06"/>
<rect x="356.02" y="1284.73" width="15.95" height="15.95" stroke="#21ff06"/>
<rect x="359.42" y="1284.73" width="15.95" height="15.95" stroke="#21ff06"/>
<rect x="904.02" y="1261.62" width="15.95" height="15.95" stroke="#21ff06"/>
<rect x="945.32" y="1241.43" width="15.95" height="15.95" stroke="#21ff06"/>
<rect x="995.52" y="1225.03" width="15.95" height="15.95" stroke="#21ff06"/>
<rect x="1039.62" y="1229.43" width="15.95" height="15.95" stroke="#21ff06"/>
<rect x="1073.73" y="1205.73" width="15.95" height="15.95" stroke="#21ff06"/>
<rect x="996.52" y="1255.23" width="15.95" height="15.95" stroke="#21ff06"/>
<rect x="999.32" y="1256.03" width="15.95" height="15.95" stroke="#21ff06"/>
<rect x="1036.12" y="1266.23" width="15.95" height="15.95" stroke="#21ff06"/>
<rect x="1040.43" y="1273.23" width="15.95" height="15.95" stroke="#21ff06"/>
<rect x="1073.12" y="1259.03" width="15.95" height="15.95" stroke="#21ff06"/>
<rect x="1073.53" y="1260.53" width="15.95" height="15.95" stroke="#21ff06"/>
<rect x="1122.73" y="1258.43" width="15.95" height="15.95" stroke="#21ff06"/>
<rect x="1124.53" y="1276.73" width="15.95" height="15.95" stroke="#21ff06"/>
<rect x="998.73" y="1286.83" width="15.95" height="15.95" stroke="#21ff06"/>
<rect x="1006.82" y="1159.62" width="15.95" height="15.95" stroke="#21ff06"/>
<rect x="1008.62" y="1185.33" width="15.95" height="15.95" stroke="#21ff06"/>
<rect x="337.3" y="1296.6" width="0.7" height="12.6" fill="#fff" stroke="none" rx="0.6"/>
<rect x="357.9" y="1256.1" width="9.1" height="1.6" fill="#fff" stroke="none" rx="0.6"/>
<rect x="361" y="1263.2" width="6" height="1.6" fill="#fff" stroke="none" rx="0.6"/>
<rect x="357" y="1278.9" width="4" height="2.2" fill="#fff" stroke="none" rx="0.6"/>
<rect x="365.7" y="1279.1" width="3.7" height="2" fill="#fff" stroke="none" rx="0.6"/>
<rect x="357" y="1272.9" width="0.7" height="1.4" fill="#fff" stroke="none" rx="0.6"/>
<rect x="360.1" y="1272.9" width="1.2" height="1.4" fill="#fff" stroke="none" rx="0.6"/>
<rect x="365.9" y="1272.7" width="2" height="1.8" fill="#fff" stroke="none" rx="0.6"/>
<path d="M1072.44 150.84L1088.56 166.96M1072.44 166.96L1088.56 150.84M1069.1 158.9L1091.9 158.9M1080.5 147.5L1080.5 170.3" stroke="#0000ff"/>
<path d="M409.74 570.34L425.86 586.46M409.74 586.46L425.86 570.34M406.4 578.4L429.2 578.4M417.8 567L417.8 589.8" stroke="#0000ff"/>
<path d="M933.24 873.64L949.36 889.76M933.24 889.76L949.36 873.64M929.9 881.7L952.7 881.7M941.3 870.3L941.3 893.1" stroke="#0000ff"/>
<path d="M446.14 1065.24L462.26 1081.36M446.14 1081.36L462.26 1065.24M442.8 1073.3L465.6 1073.3M454.2 1061.9L454.2 1084.7" stroke="#0000ff"/>
<path d="M821.34 1087.74L837.46 1103.86M821.34 1103.86L837.46 1087.74M818 1095.8L840.8 1095.8M829.4 1084.4L829.4 1107.2" stroke="#0000ff"/>
<path d="M1520.84 1111.54L1536.96 1127.66M1520.84 1127.66L1536.96 1111.54M1517.5 1119.6L1540.3 1119.6M1528.9 1108.2L1528.9 1131" stroke="#0000ff"/>
<path d="M670.74 1233.14L686.86 1249.26M670.74 1249.26L686.86 1233.14M667.4 1241.2L690.2 1241.2M678.8 1229.8L678.8 1252.6" stroke="#0000ff"/>
<path d="M669.24 1242.34L685.36 1258.46M669.24 1258.46L685.36 1242.34M665.9 1250.4L688.7 1250.4M677.3 1239L677.3 1261.8" stroke="#0000ff"/>
<path d="M1554.64 1253.94L1570.76 1270.06M1554.64 1270.06L1570.76 1253.94M1551.3 1262L1574.1 1262M1562.7 1250.6L1562.7 1273.4" stroke="#0000ff"/>
<path d="M1261.54 1277.74L1277.66 1293.86M1261.54 1293.86L1277.66 1277.74M1258.2 1285.8L1281 1285.8M1269.6 1274.4L1269.6 1297.2" stroke="#0000ff"/>
<path d="M1289.24 1265.64L1305.36 1281.76M1289.24 1281.76L1305.36 1265.64M1285.9 1273.7L1308.7 1273.7M1297.3 1262.3L1297.3 1285.1" stroke="#0000ff"/>
<path d="M1011.24 1276.84L1027.36 1292.96M1011.24 1292.96L1027.36 1276.84M1007.9 1284.9L1030.7 1284.9M1019.3 1273.5L1019.3 1296.3" stroke="#0000ff"/>
<path d="M1124.64 1294.14L1140.76 1310.26M1124.64 1310.26L1140.76 1294.14M1121.3 1302.2L1144.1 1302.2M1132.7 1290.8L1132.7 1313.6" stroke="#0000ff"/>
<path d="M822.04 1290.54L838.16 1306.66M822.04 1306.66L838.16 1290.54M818.7 1298.6L841.5 1298.6M830.1 1287.2L830.1 1310" stroke="#0000ff"/>
<path d="M350.84 1289.74L366.96 1305.86M350.84 1305.86L366.96 1289.74M347.5 1297.8L370.3 1297.8M358.9 1286.4L358.9 1309.2" stroke="#0000ff"/>
</g>
<rect x="182" y="24" width="2039.4" height="1339" fill="none" stroke="#0f0f0f" stroke-width="2"/>
<g stroke="#262626" stroke-width="4.45">
<line x1="169.4" y1="84" x2="181" y2="84"/>
<line x1="169.4" y1="388.77" x2="181" y2="388.77"/>
<line x1="169.4" y1="693.55" x2="181" y2="693.55"/>
<line x1="169.4" y1="998.32" x2="181" y2="998.32"/>
<line x1="169.4" y1="1303.1" x2="181" y2="1303.1"/>
<line x1="503.4" y1="1364" x2="503.4" y2="1375.6"/>
<line x1="985.45" y1="1364" x2="985.45" y2="1375.6"/>
<line x1="1467.45" y1="1364" x2="1467.45" y2="1375.6"/>
<line x1="1949.45" y1="1364" x2="1949.45" y2="1375.6"/>
</g>
<text class="tk" x="159.45" y="97.4" text-anchor="end">1.00</text>
<text class="tk" x="159.45" y="402.17" text-anchor="end">0.75</text>
<text class="tk" x="159.45" y="706.95" text-anchor="end">0.50</text>
<text class="tk" x="159.45" y="1011.72" text-anchor="end">0.25</text>
<text class="tk" x="159.45" y="1316.5" text-anchor="end">0.00</text>
<text class="tk" x="503.4" y="1412.3" text-anchor="middle">1,210,000</text>
<text class="tk" x="985.45" y="1412.3" text-anchor="middle">1,220,000</text>
<text class="tk" x="1467.45" y="1412.3" text-anchor="middle">1,230,000</text>
<text class="tk" x="1949.45" y="1412.3" text-anchor="middle">1,240,000</text>
<text class="ti" x="1201.75" y="1467.2" text-anchor="middle">Genomic location of CTBP1 (GRCh37 chr4:1205236-1243741, gray = exons)</text>
<text class="ti" transform="translate(54.9,693.5) rotate(-90)" text-anchor="middle">CAPICE score (pathogenicity estimate)</text>
<text class="ti" x="2293.3" y="412.7">Source</text>
<g fill="none" stroke="#000" stroke-width="2.95" stroke-linejoin="round" stroke-linecap="round">
<path d="M2317.7 466.5L2329.1 455.1L2340.5 466.5L2329.1 477.9Z" stroke="#000"/>
<rect x="2321.12" y="530.73" width="15.95" height="15.95" stroke="#000"/>
<path d="M2321.04 602.54L2337.16 618.66M2321.04 618.66L2337.16 602.54M2317.7 610.6L2340.5 610.6M2329.1 599.2L2329.1 622" stroke="#000"/>
</g>
<text class="lg" x="2373.8" y="480.3">CAPICE Testing</text>
<text class="lg" x="2373.8" y="552.5">CAPICE Training</text>
<text class="lg" x="2373.8" y="624.4">VKGL Oct. 2019</text>
<text class="ti" x="2293.3" y="774.3">Classification</text>
<circle cx="2329.1" cy="827.3" r="9.45" fill="#21ff06"/>
<circle cx="2329.1" cy="899.5" r="9.45" fill="#fb0007"/>
<circle cx="2329.1" cy="971.4" r="9.45" fill="#0000ff"/>
<text class="lg" x="2373.8" y="840.2">LB/B</text>
<text class="lg" x="2373.8" y="912.2">LP/P</text>
<text class="lg" x="2373.8" y="984.1">VUS</text>
</svg></body></html>
